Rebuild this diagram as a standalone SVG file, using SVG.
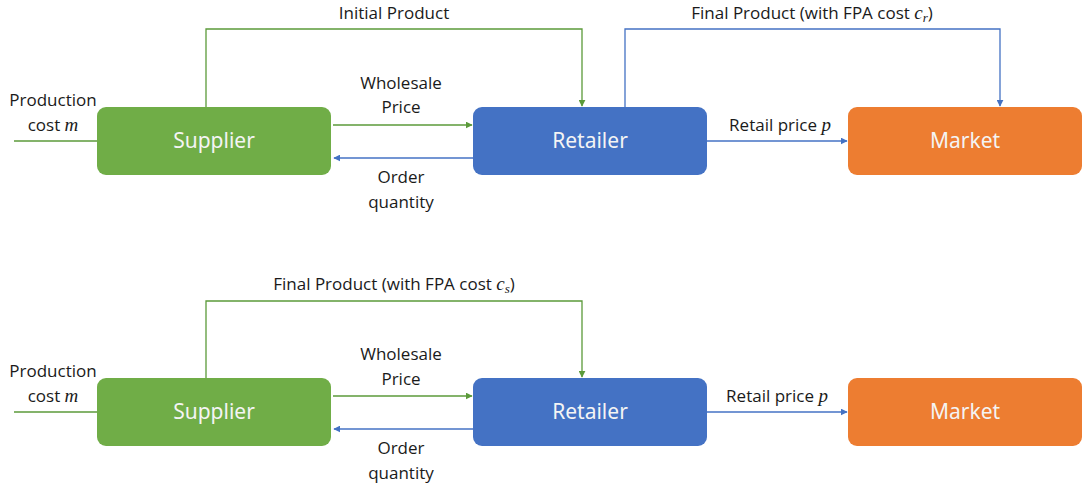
<svg xmlns="http://www.w3.org/2000/svg" width="1084" height="488" viewBox="0 0 1084 488">
<style>
.lbl{font-family:"Open Sans","Liberation Sans",sans-serif;font-size:17px;fill:#1a1a1a;text-anchor:middle}
.node{font-family:"Noto Sans","Liberation Sans",sans-serif;font-size:21px;fill:#f4f4f4;text-anchor:middle}
.g{stroke:#5B9A3A;stroke-width:1.3;fill:none}
.b{stroke:#4472C4;stroke-width:1.3;fill:none}
.m{font-family:"Liberation Serif",serif;font-style:italic}
</style>
<defs>
<marker id="ag" viewBox="0 0 10 10" refX="9" refY="5" markerWidth="7" markerHeight="7" orient="auto" markerUnits="userSpaceOnUse"><path d="M0,0L10,5L0,10z" fill="#5B9A3A"/></marker>
<marker id="ab" viewBox="0 0 10 10" refX="9" refY="5" markerWidth="7" markerHeight="7" orient="auto" markerUnits="userSpaceOnUse"><path d="M0,0L10,5L0,10z" fill="#4472C4"/></marker>
</defs>
<rect width="1084" height="488" fill="#fff"/>
<g id="connectors">
<path class="g" d="M14,141H97"/>
<path class="g" d="M206,107V29H582V106" marker-end="url(#ag)"/>
<path class="g" d="M333,125H472" marker-end="url(#ag)"/>
<path class="b" d="M473,158H334" marker-end="url(#ab)"/>
<path class="b" d="M707,141H847" marker-end="url(#ab)"/>
<path class="b" d="M625,107V29H1000V106" marker-end="url(#ab)"/>
<path class="g" d="M14,412H97"/>
<path class="g" d="M206,378V301H582V377" marker-end="url(#ag)"/>
<path class="g" d="M333,396H472" marker-end="url(#ag)"/>
<path class="b" d="M473,429H334" marker-end="url(#ab)"/>
<path class="b" d="M707,412H847" marker-end="url(#ab)"/>
</g>
<g id="labels">
<text class="lbl" x="53" y="106">Production</text>
<text class="lbl" x="53" y="131">cost <tspan class="m" font-size="19">m</tspan></text>
<text class="lbl" x="394" y="19">Initial Product</text>
<text class="lbl" x="401" y="89">Wholesale</text>
<text class="lbl" x="401" y="113">Price</text>
<text class="lbl" x="401" y="183">Order</text>
<text class="lbl" x="401" y="208">quantity</text>
<text class="lbl" x="780" y="131">Retail price <tspan class="m" font-size="19">p</tspan></text>
<text class="lbl" x="812" y="19">Final Product (with FPA cost <tspan class="m" font-size="19">c</tspan><tspan class="m" font-size="13" dy="3">r</tspan><tspan dy="-3">)</tspan></text>
<text class="lbl" x="53" y="377">Production</text>
<text class="lbl" x="53" y="402">cost <tspan class="m" font-size="19">m</tspan></text>
<text class="lbl" x="394" y="290">Final Product (with FPA cost <tspan class="m" font-size="19">c</tspan><tspan class="m" font-size="13" dy="3">s</tspan><tspan dy="-3">)</tspan></text>
<text class="lbl" x="401" y="360">Wholesale</text>
<text class="lbl" x="401" y="385">Price</text>
<text class="lbl" x="401" y="454">Order</text>
<text class="lbl" x="401" y="479">quantity</text>
<text class="lbl" x="777" y="402">Retail price <tspan class="m" font-size="19">p</tspan></text>
</g>
<g id="supplier1"><rect x="97" y="107" width="234" height="68" rx="9" fill="#70AD47"/><text class="node" x="214" y="148">Supplier</text></g>
<g id="retailer1"><rect x="473" y="107" width="234" height="68" rx="9" fill="#4472C4"/><text class="node" x="590" y="148">Retailer</text></g>
<g id="market1"><rect x="848" y="107" width="234" height="68" rx="9" fill="#ED7D31"/><text class="node" x="965" y="148">Market</text></g>
<g id="supplier2"><rect x="97" y="378" width="234" height="68" rx="9" fill="#70AD47"/><text class="node" x="214" y="419">Supplier</text></g>
<g id="retailer2"><rect x="473" y="378" width="234" height="68" rx="9" fill="#4472C4"/><text class="node" x="590" y="419">Retailer</text></g>
<g id="market2"><rect x="848" y="378" width="234" height="68" rx="9" fill="#ED7D31"/><text class="node" x="965" y="419">Market</text></g>
</svg>
